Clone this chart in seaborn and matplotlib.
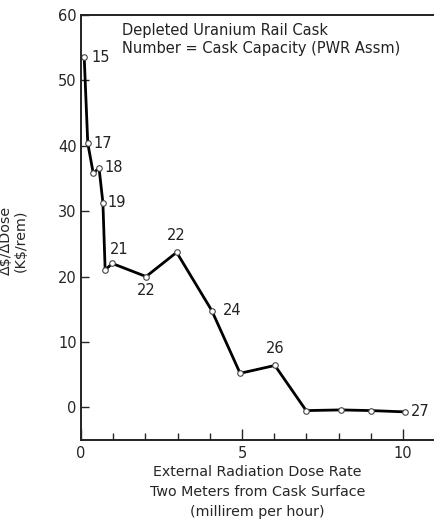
import matplotlib
matplotlib.use("Agg")
import matplotlib.pyplot as plt
import seaborn as sns
import pandas as pd
from matplotlib.ticker import MultipleLocator

# dose rate (mrem/h) vs marginal cost per dose (K$/rem)
dose_rate = [0.10, 0.21, 0.38, 0.56, 0.68, 0.75, 0.97, 2.02, 2.97, 4.06, 4.94, 6.02, 6.99, 8.07, 9.00, 10.06]
cost_per_dose = [53.5, 40.4, 35.8, 36.6, 31.3, 21.0, 22.0, 20.0, 23.7, 14.8, 5.2, 6.4, -0.5, -0.4, -0.5, -0.7]
capacity = ["15", "17", "", "18", "19", "", "21", "22", "22", "24", "", "26", "", "", "", "27"]

# where each capacity number sits relative to its point (points)
label_offsets = [(5, 0), (4, 0), (0, 0), (4, 0), (3.5, 0), (0, 0), (5, 10), (0, -10),
                 (0, 12), (8, 0), (0, 0), (0, 12), (0, 0), (0, 0), (0, 0), (4, 0)]

df = pd.DataFrame({"dose": dose_rate, "cost": cost_per_dose, "cap": capacity})

sns.set_style("ticks")
plt.rcParams["font.family"] = ["DejaVu Sans"]

fig = plt.figure(figsize=(4.34, 5.24), dpi=100)
ax = fig.add_axes([81 / 434, 1 - 440 / 524, 1 - 81 / 434, (440 - 15) / 524])

sns.lineplot(data=df, x="dose", y="cost", ax=ax, color="black", linewidth=2,
             marker="o", markersize=4, markerfacecolor="white",
             markeredgecolor="#444444", markeredgewidth=0.8, sort=False)

for x, y, lab, (dx, dy) in zip(df["dose"], df["cost"], df["cap"], label_offsets):
    if not lab:
        continue
    ha = "left" if dy == 0 else "center"
    ax.annotate(lab, (x, y), xytext=(dx, dy), textcoords="offset points",
                ha=ha, va="center", fontsize=10.5, color="#222222")

ax.text(0.116, 0.982, "Depleted Uranium Rail Cask\nNumber = Cask Capacity (PWR Assm)",
        transform=ax.transAxes, ha="left", va="top", fontsize=10.5,
        linespacing=1.3, color="#222222")

ax.set_xlim(0, 10.96)
ax.set_ylim(-5, 60)
ax.xaxis.set_major_locator(MultipleLocator(5))
ax.xaxis.set_minor_locator(MultipleLocator(1))
ax.yaxis.set_major_locator(MultipleLocator(10))
ax.tick_params(axis="x", which="major", direction="in", length=8, width=1, labelsize=10.5, pad=4)
ax.tick_params(axis="x", which="minor", direction="in", length=5, width=1)
ax.tick_params(axis="y", direction="in", length=6, width=1, labelsize=10.5, pad=3)

for side in ["left", "bottom", "top"]:
    ax.spines[side].set_linewidth(1.4)
    ax.spines[side].set_color("#222222")
ax.spines["right"].set_visible(False)

ax.set_xlabel("External Radiation Dose Rate\nTwo Meters from Cask Surface\n(millirem per hour)",
              fontsize=10.3, linespacing=1.55, labelpad=3)
ax.set_ylabel("Δ$/ΔDose\n(K$/rem)", fontsize=10.3, linespacing=1.1)
ax.yaxis.set_label_coords(-0.15, 0.47)

fig.savefig("out.png", dpi=100, facecolor="white")
